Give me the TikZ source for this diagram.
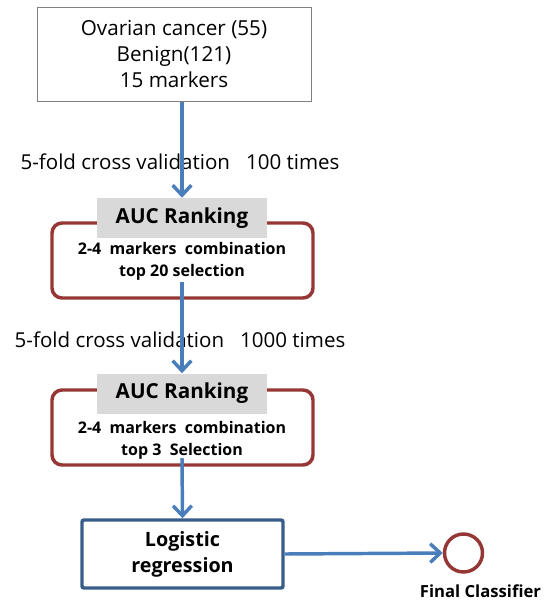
\documentclass[tikz,border=0pt]{standalone}
\usepackage{fontspec}
\setmainfont{Open Sans}
\usetikzlibrary{arrows.meta}

\definecolor{flowblue}{RGB}{74,126,187}
\definecolor{rankred}{RGB}{149,55,53}
\definecolor{regblue}{RGB}{56,93,138}
\definecolor{tabgray}{RGB}{217,217,217}
\definecolor{framegray}{RGB}{128,128,128}

\begin{document}
\begin{tikzpicture}[x=0.75pt,y=0.75pt,yscale=-1,xscale=1,
  flow/.style={draw=flowblue, line width=2.6pt, -{Straight Barb[length=7.5pt,width=14pt]}},
  databox/.style={draw=framegray, line width=0.75pt, minimum width=205.5pt, minimum height=70.5pt, align=center, font=\fontsize{15.5}{19.5}\selectfont},
  rankbox/.style={draw=rankred, line width=2.6pt, rounded corners=7.5pt, minimum width=195.75pt, minimum height=56.25pt},
  ranktab/.style={fill=tabgray, minimum width=127.5pt, minimum height=30pt, font=\fontsize{15.5}{17}\selectfont\bfseries},
  ranktext/.style={align=center, inner sep=0pt, font=\fontsize{12}{16.5}\selectfont\bfseries},
  cvlabel/.style={inner sep=0pt, font=\fontsize{15.4}{17}\selectfont},
  regbox/.style={draw=regblue, line width=2.6pt, rounded corners=1.5pt, minimum width=150.75pt, minimum height=51pt, align=center, font=\fontsize{14.8}{19.5}\selectfont\bfseries},
  finalnode/.style={circle, draw=rankred, line width=2.6pt, minimum size=28.5pt, inner sep=0pt}]
\useasboundingbox (0,0) rectangle (543,603);

% Input data
\node[databox] (data) at (174,54) {Ovarian cancer (55)\\Benign(121)\\15 markers};

% First ranking step
\node[cvlabel] (cv1) at (180,162) {5-fold cross validation~~ 100 times};
\node[rankbox] (rank1) at (182.5,260.5) {};
\node[ranktab] (tab1) at (182,218) {AUC Ranking};
\node[ranktext] (sel1) at (182,261) {2-4~ markers~ combination\\top 20 selection};
\coordinate (out1) at (182,282);

% Second ranking step
\node[cvlabel] (cv2) at (180,340) {5-fold cross validation~~ 1000 times};
\node[rankbox] (rank2) at (182.5,427.5) {};
\node[ranktab] (tab2) at (182,393.5) {AUC Ranking};
\node[ranktext] (sel2) at (182,440) {2-4~ markers~ combination\\top 3~ Selection};
\coordinate (out2) at (182,458);

% Classifier
\node[regbox] (reg) at (182.5,554) {Logistic\\regression};
\node[finalnode] (final) at (463.5,553) {};
\node[inner sep=0pt, font=\fontsize{12.5}{14}\selectfont\bfseries] (finallabel) at (480.5,591) {Final Classifier};

% Connectors
\draw[flow] (data.south -| tab1.north) -- (tab1.north);
\draw[flow] (out1) -- (tab2.north);
\draw[flow] (out2) -- (reg.north);
\draw[flow] (reg.east) -- (final.west);

\end{tikzpicture}
\end{document}
